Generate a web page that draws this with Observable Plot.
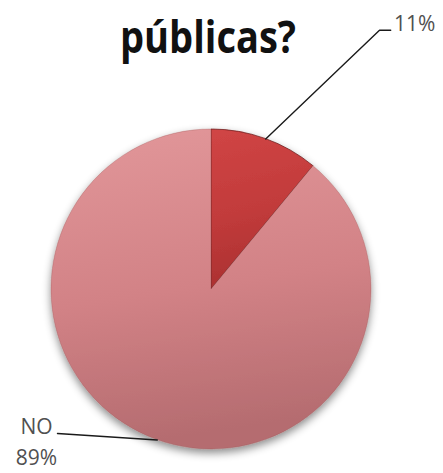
<!DOCTYPE html>
<html><head><meta charset="utf-8">
<script src="https://cdn.jsdelivr.net/npm/d3@7"></script>
<script src="https://cdn.jsdelivr.net/npm/@observablehq/plot@0.6"></script>
<style>body{margin:0;background:#fff}</style>
</head><body><div id="chart"></div>
<script>
// ---- data ----
const categories = ["SÍ", "NO"];
const values = [11, 89];
const labelTexts = ["11%", "NO\n89%"];
const titleText = "públicas?";

// ---- layout / style (not data) ----
const W = 443, H = 473;
const CX = 211, CY = 289, R = 160;
const fills = [["#d04545", "#c23b3b", "#ab3131"], ["#e2979a", "#d28286", "#b56c70"]];
// leader elbow / end points and label anchors, in pie-radius units (y up)
const leaderPts = [[[1.05, 1.62], [1.12, 1.62]], [[-0.9625, -0.9]]];
const labelPos = [
  {x: 1.14, y: 1.675, anchor: "start"},
  {x: -1.094, y: -0.94, anchor: "middle"}
];

const data = categories.map((c, i) => ({category: c, value: values[i], label: labelTexts[i], i}));
const pie = d3.pie().sort(null).value(d => d.value)(data);

// leader polylines from each slice's mid-angle on the rim
const leaders = pie.flatMap((a, i) => {
  const m = (a.startAngle + a.endAngle) / 2;
  return [[Math.sin(m), Math.cos(m)], ...leaderPts[i]].map(([x, y]) => ({x, y, i}));
});
const labels = data.map((d, i) => ({...d, ...labelPos[i]}));

function pieMark(index, scales) {
  const cx = scales.x(0), cy = scales.y(0), r = scales.x(1) - scales.x(0);
  const g = d3.create("svg:g");
  const defs = g.append("defs");
  const f = defs.append("filter").attr("id", "pshadow").attr("x", "-20%").attr("y", "-20%").attr("width", "140%").attr("height", "140%");
  f.append("feDropShadow").attr("dx", 0).attr("dy", 4).attr("stdDeviation", 4).attr("flood-color", "#000").attr("flood-opacity", 0.45);
  fills.forEach((c, i) => {
    const lg = defs.append("linearGradient").attr("id", "pg" + i).attr("x1", 0).attr("y1", 0).attr("x2", 0.15).attr("y2", 1);
    lg.append("stop").attr("offset", "0%").attr("stop-color", c[0]);
    lg.append("stop").attr("offset", "55%").attr("stop-color", c[1]);
    lg.append("stop").attr("offset", "100%").attr("stop-color", c[2]);
  });
  const arc = d3.arc().innerRadius(0).outerRadius(r);
  pie.forEach((a, i) => {
    defs.append("clipPath").attr("id", "pc" + i).append("path").attr("d", arc(a)).attr("transform", `translate(${cx},${cy})`);
  });
  const root = g.append("g").attr("filter", "url(#pshadow)");
  const s = root.selectAll("g.slice").data(pie).join("g").attr("class", "slice");
  s.append("path").attr("transform", `translate(${cx},${cy})`).attr("d", arc)
    .attr("fill", (d, i) => `url(#pg${i})`);
  // bevel highlight
  s.append("path").attr("transform", `translate(${cx},${cy})`).attr("d", arc)
    .attr("clip-path", (d, i) => `url(#pc${i})`)
    .attr("fill", "none").attr("stroke", "rgba(255,255,255,0.22)").attr("stroke-width", 7);
  s.append("path").attr("transform", `translate(${cx},${cy})`).attr("d", arc)
    .attr("fill", "none").attr("stroke", (d, i) => i === 0 ? "rgba(100,20,20,0.7)" : "rgba(150,80,80,0.3)").attr("stroke-width", 1);
  return g.node();
}

const textStyle = {x: "x", y: "y", text: "label", lineAnchor: "middle",
  fontSize: 21, lineHeight: 1.45, fill: "#505050", fontFamily: "Open Sans"};

const plot = Plot.plot({
  width: W, height: H,
  margin: 0,
  x: {domain: [-1, 1], range: [CX - R, CX + R]},
  y: {domain: [-1, 1], range: [CY + R, CY - R]},
  axis: null,
  style: {background: "#fff", overflow: "hidden"},
  marks: [
    pieMark,
    Plot.line(leaders, {x: "x", y: "y", z: "i", stroke: "#1a1a1a", strokeWidth: 1.4}),
    Plot.text(labels.filter(d => d.anchor === "start"), {...textStyle, textAnchor: "start"}),
    Plot.text(labels.filter(d => d.anchor === "middle"), {...textStyle, textAnchor: "middle"}),
    Plot.text([titleText], {frameAnchor: "top", dx: -14, dy: 52, lineAnchor: "bottom",
      fontSize: 44, fontWeight: "bold", fontFamily: "Open Sans", fill: "#111"})
  ]
});
d3.select(plot).selectAll("text").each(function() {
  if (this.textContent === titleText) d3.select(this).attr("textLength", 176).attr("lengthAdjust", "spacingAndGlyphs");
});
document.getElementById("chart").append(plot);
</script>
</body></html>
